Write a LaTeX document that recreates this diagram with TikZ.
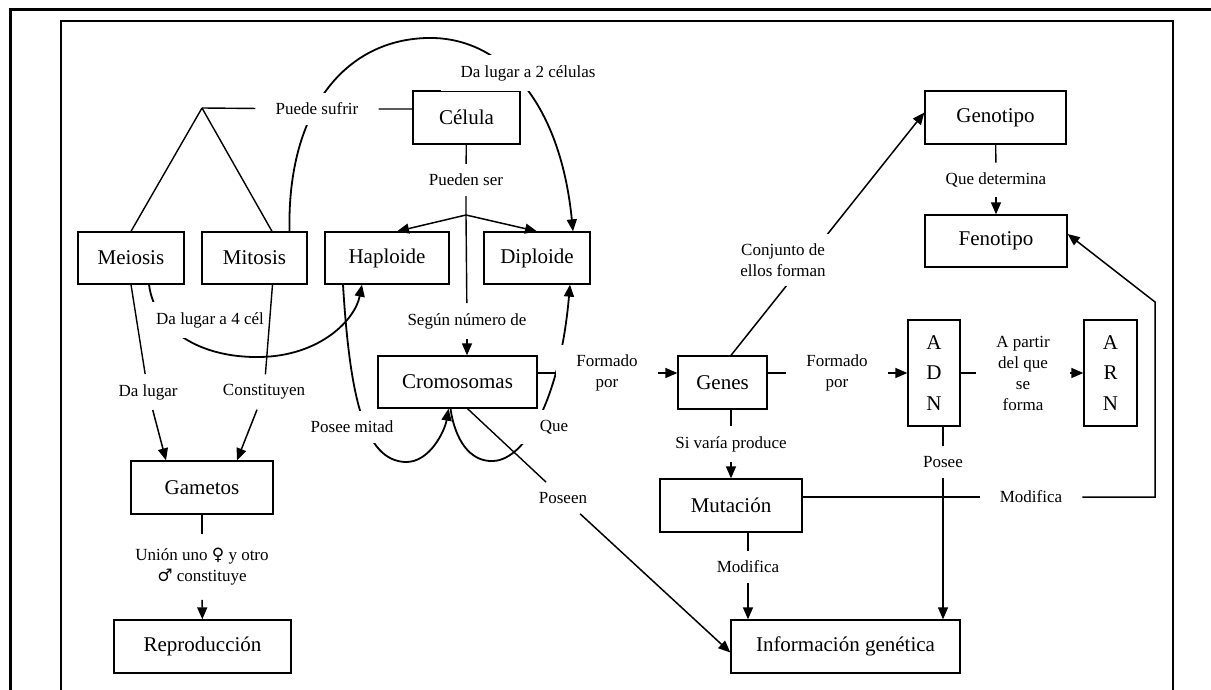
\documentclass[tikz,border=0pt]{standalone}
\usepackage{fontspec}
\setmainfont{Liberation Serif}
\newfontfamily\simbolos{DejaVu Serif}
\usetikzlibrary{arrows.meta}

\tikzset{
  concepto/.style={draw, line width=1.3pt, inner sep=0pt, minimum height=53pt, font=\fontsize{21}{25}\selectfont},
  enlace/.style={fill=white, inner xsep=20pt, inner ysep=10pt, align=center, font=\fontsize{17}{21}\selectfont},
  linea/.style={line width=1.4pt},
  flecha/.style={line width=1.5pt, -{Triangle[length=12pt,width=10pt]}},
  curva/.style={line width=1.8pt, -{Triangle[length=12pt,width=10pt]}},
}

\begin{document}
\begin{tikzpicture}[x=1pt,y=-1pt]
  \useasboundingbox (0,0) rectangle (1211,690);
  % Frame
  \draw[line width=3pt] (8.5,10) -- (1211,10);
  \draw[line width=3pt] (10,8.5) -- (10,690);
  \draw[line width=1.5pt] (61,690) -- (61,21) -- (1173,21) -- (1173,690);

  % Concepts
  \node[concepto, minimum width=107pt] (celula) at (466.5,117.5) {Célula};
  \node[concepto, minimum width=141pt] (genotipo) at (995.5,117.5) {Genotipo};
  \node[concepto, minimum width=142pt, minimum height=52pt] (fenotipo) at (996,241) {Fenotipo};
  \node[concepto, minimum width=106pt, minimum height=52pt] (meiosis) at (131,258) {Meiosis};
  \node[concepto, minimum width=105pt, minimum height=52pt] (mitosis) at (254.5,258) {Mitosis};
  \node[concepto, minimum width=124pt, minimum height=52pt] (haploide) at (387,258) {Haploide};
  \node[concepto, minimum width=106pt, minimum height=52pt] (diploide) at (537,258) {Diploide};
  \node[concepto, minimum width=159pt, minimum height=52pt] (cromosomas) at (457.5,382) {Cromosomas};
  \node[concepto, minimum width=89pt] (genes) at (722.5,382.5) {Genes};
  \node[concepto, minimum width=52pt, minimum height=106pt, align=center,
        font=\fontsize{21}{30.5}\selectfont] (adn) at (934,373) {A\\D\\N};
  \node[concepto, minimum width=53pt, minimum height=106pt, align=center,
        font=\fontsize{21}{30.5}\selectfont] (arn) at (1110.5,373) {A\\R\\N};
  \node[concepto, minimum width=142pt] (mutacion) at (731,505.5) {Mutación};
  \node[concepto, minimum width=142pt] (gametos) at (202,487.5) {Gametos};
  \node[concepto, minimum width=177pt] (reproduccion) at (202.5,646.5) {Reproducción};
  \node[concepto, minimum width=229pt] (info) at (845.5,646.5) {Información genética};

  % Points
  \coordinate (vert) at (202,108);
  \coordinate (junc) at (466,215);
  \coordinate (esq1) at (1155,497);
  \coordinate (esq2) at (1155,302);

  % Curves (under the labels)
  \draw[curva] ([xshift=35pt]mitosis.north)
    .. controls (287,110) and (345,40) .. (427,38)
    .. controls (500,36) and (560,100) .. ([xshift=36pt]diploide.north);
  \draw[curva] ([xshift=18pt]meiosis.south)
    .. controls (155,330) and (200,358) .. (260,357)
    .. controls (320,356) and (355,320) .. ([xshift=-25pt]haploide.south);
  \draw[curva] ([xshift=-44pt]haploide.south)
    .. controls (350,400) and (365,460) .. (405,462)
    .. controls (430,463) and (445,430) .. ([xshift=-9pt]cromosomas.south);
  \draw[curva] ([xshift=-7pt]cromosomas.south)
    .. controls (455,440) and (470,462) .. (493,461)
    .. controls (525,460) and (560,400) .. ([xshift=33pt]diploide.south);
  \draw[flecha] ([xshift=8.5pt]genes.north) -- ([yshift=5pt]genotipo.west);

  % Labels
  \node[enlace] (puede) at (317,109) {Puede sufrir};
  \node[enlace] (dalugardos) at (528,73) {Da lugar a 2 células};
  \node[enlace] (pueden) at (466,180) {Pueden ser};
  \node[enlace] (quedet) at (996,180) {Que determina};
  \node[enlace] (conjunto) at (783,260) {Conjunto de\\ellos forman};
  \node[enlace] (dalugarcuatro) at (210,320) {Da lugar a 4 cél};
  \node[enlace] (segun) at (467,321) {Según número de};
  \node[enlace] (formadouno) at (607,373) {Formado\\por};
  \node[enlace] (formadodos) at (837,373) {Formado\\por};
  \node[enlace] (apartir) at (1023,373) {A partir\\del que\\se\\forma};
  \node[enlace] (dalugar) at (148,392) {Da lugar};
  \node[enlace] (constituyen) at (264,392) {Constituyen};
  \node[enlace] (poseemitad) at (352,427) {Posee mitad};
  \node[enlace] (que) at (554,427) {Que};
  \node[enlace] (sivaria) at (731,444) {Si varía produce};
  \node[enlace] (posee) at (943,462) {Posee};
  \node[enlace] (poseen) at (563,498) {Poseen};
  \node[enlace] (modificauno) at (1031,497) {Modifica};
  \node[enlace, inner ysep=14pt] (union) at (202,567) {Unión uno {\simbolos ♀} y otro\\{\simbolos ♂} constituye};
  \node[enlace] (modificados) at (748,567) {Modifica};

  % Connectors
  \draw[linea] (celula.west |- puede) -- (puede) -- (vert);
  \draw[linea] (vert) -- (meiosis.north);
  \draw[linea] (vert) -- ([xshift=17.5pt]mitosis.north);
  \draw[linea] (celula) -- (pueden) -- (junc) -- (segun);
  \draw[flecha] (junc) -- ([xshift=10pt]haploide.north);
  \draw[flecha] (junc) -- (diploide.north);
  \draw[flecha] (segun) -- (segun |- cromosomas.north);
  \draw[linea] (genotipo) -- (quedet);
  \draw[flecha] (quedet) -- (fenotipo);
  \draw[linea] (meiosis.south) -- (dalugar);
  \draw[flecha] (dalugar) -- ([xshift=-36pt]gametos.north);
  \draw[linea] ([xshift=18pt]mitosis.south) -- (constituyen);
  \draw[flecha] (constituyen) -- ([xshift=35pt]gametos.north);
  \draw[linea] (gametos) -- (union);
  \draw[flecha] (union) -- (reproduccion);
  \draw[linea] (cromosomas.east |- formadouno) -- (formadouno);
  \draw[flecha] (formadouno) -- (genes.west |- formadouno);
  \draw[linea] (genes.east |- formadodos) -- (formadodos);
  \draw[flecha] (formadodos) -- (adn.west |- formadodos);
  \draw[linea] (adn) -- (apartir);
  \draw[flecha] (apartir) -- (arn);
  \draw[linea] (adn.south -| posee) -- (posee);
  \draw[flecha] (posee) -- (info.north -| posee);
  \draw[linea] (genes.south -| sivaria) -- (sivaria);
  \draw[flecha] (sivaria) -- (mutacion);
  \draw[linea] (mutacion.south -| modificados) -- (modificados);
  \draw[flecha] (modificados) -- (info.north -| modificados);
  \draw[linea] (mutacion.east |- modificauno) -- (modificauno);
  \draw[flecha] (modificauno) -- (esq1) -- (esq2) -- ([yshift=7pt]fenotipo.east);
  \draw[linea] ([xshift=10pt]cromosomas.south) -- (poseen);
  \draw[flecha] (poseen) -- ([yshift=-6pt]info.west);
\end{tikzpicture}
\end{document}
